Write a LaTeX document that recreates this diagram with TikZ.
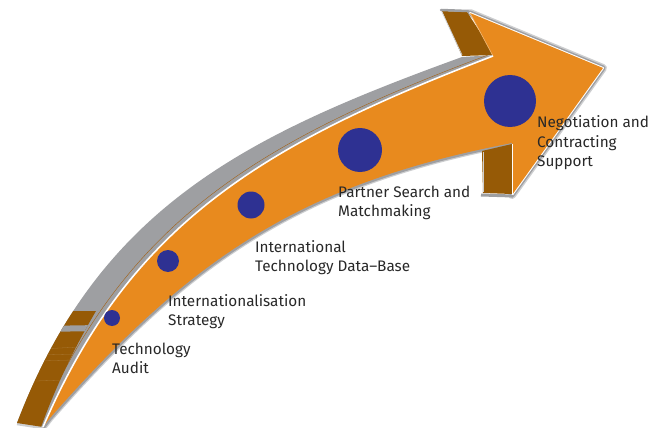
\documentclass[tikz,border=0pt]{standalone}
\usepackage{fontspec}
\setmainfont{Fira Sans}
\definecolor{aorange}{RGB}{232,138,30}
\definecolor{abrown}{RGB}{150,90,6}
\definecolor{agray}{RGB}{158,159,162}
\definecolor{alight}{RGB}{205,206,208}
\definecolor{ablue}{RGB}{46,49,146}
\definecolor{atext}{RGB}{40,40,40}
\begin{document}
\begin{tikzpicture}[x=1pt,y=-1pt,
  lbl/.style={anchor=base west, inner sep=0pt, text=atext, font=\fontsize{15.3}{19.5}\selectfont},
  dot/.style={circle, fill=ablue, inner sep=0pt},
  edgeline/.style={line join=round, line cap=round}]
\useasboundingbox (0,0) rectangle (651,428);

% shadow strokes round the orange face
\draw[alight, line width=8, edgeline] (470,13) -- (603,68) -- (512,195);
\draw[agray, line width=5, edgeline] (470,13) -- (603,68) -- (512,195);
\draw[white, line width=2, edgeline] (470,13) -- (603,68) -- (512,195);
\draw[alight, line width=7, edgeline] (512,143) .. controls (302,183) and (190,258) .. (50,418) -- (43,427);
\draw[agray, line width=4.5, edgeline] (512,143) .. controls (302,183) and (190,258) .. (50,418) -- (43,427);

% gray top side of the shaft
\fill[agray] (17,423) .. controls (100,205) and (250,134) .. (462,57) -- (495,55) -- (493,56)
  .. controls (260,145) and (130,225) .. (43,427) -- cycle;
\draw[aorange!70!black, line width=0.4] (39,423) .. controls (127,221) and (258,141) .. (488,55);
\draw[alight, line width=2.5] (17,424) -- (43,428);

% brown side at the tail
\begin{scope}
  \clip (17,423) .. controls (100,205) and (250,134) .. (462,57) -- (495,55) -- (493,56)
    .. controls (260,145) and (130,225) .. (43,427) -- cycle;
  \clip (0,311) -- (96,311) .. controls (76,345) and (56,385) .. (40,430) -- (0,430) -- cycle;
  \fill[abrown] (0,300) rectangle (100,430);
  \fill[agray] (40,326) -- (100,325) -- (100,331) -- (40,332) -- cycle;
  \draw[abrown!82!white, line width=0.3] (40,349) -- (80,347) (40,355) -- (76,354) (36,361) -- (72,360) (36,381) -- (64,380);
\end{scope}

% upper barb side
\fill[abrown] (442,11) -- (467,12) -- (495,55) -- (462,56) -- cycle;
\draw[agray, line width=2.5, line cap=round] (441,10) -- (468,11);
\draw[alight, line width=0.8] (442,12) -- (462,55);

% lower barb side
\fill[abrown] (482,151) -- (512,144) -- (512,194) -- (483,193) -- cycle;
\draw[agray, line width=3] (481,195) -- (513,196);
\draw[alight, line width=0.8] (483,152) -- (483,192);

% orange top face
\fill[aorange] (43,427) .. controls (130,225) and (260,145) .. (493,56)
  -- (470,13) -- (603,68) -- (512,195) -- (512,143)
  .. controls (302,183) and (190,258) .. (50,418) -- cycle;
\draw[white, line width=1] (512,144) -- (512,195);
\draw[aorange!60!white, line width=0.6] (470,13) -- (493,56);

% light edge along the top of the face
\draw[white, line width=1.6] (43,427) .. controls (130,225) and (260,145) .. (493,56);

% stages
\node[dot, minimum size=16pt] (d1) at (112,318) {};
\node[dot, minimum size=22pt] (d2) at (168,261) {};
\node[dot, minimum size=27pt] (d3) at (251,205) {};
\node[dot, minimum size=44pt] (d4) at (360,150) {};
\node[dot, minimum size=52pt] (d5) at (510,101) {};

\node[lbl] (t1) at (112,354) {\begin{tabular}[t]{@{}l@{}}Technology\\Audit\end{tabular}};
\node[lbl] (t2) at (168,306) {\begin{tabular}[t]{@{}l@{}}Internationalisation\\Strategy\end{tabular}};
\node[lbl] (t3) at (255,252) {\begin{tabular}[t]{@{}l@{}}International\\Technology Data–Base\end{tabular}};
\node[lbl] (t4) at (338,197) {\begin{tabular}[t]{@{}l@{}}Partner Search and\\Matchmaking\end{tabular}};
\node[lbl] (t5) at (537,128) {\begin{tabular}[t]{@{}l@{}}Negotiation and\\Contracting\\Support\end{tabular}};
\end{tikzpicture}
\end{document}
